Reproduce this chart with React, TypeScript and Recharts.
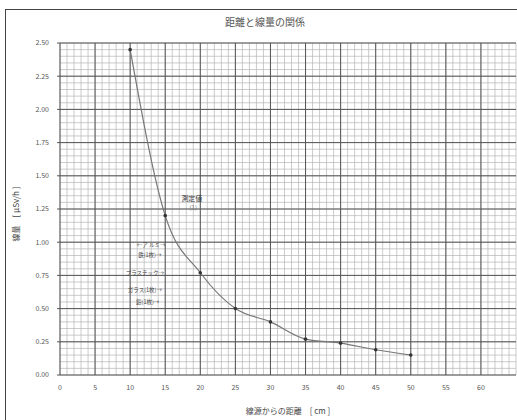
import { LineChart, Line, XAxis, YAxis, ReferenceLine, ReferenceDot } from 'recharts';

const distance = [10, 15, 20, 25, 30, 35, 40, 45, 50];
const dose = [2.45, 1.2, 0.77, 0.5, 0.4, 0.27, 0.24, 0.19, 0.15];

const xTicks = [0, 5, 10, 15, 20, 25, 30, 35, 40, 45, 50, 55, 60];
const yTicks = [0, 0.25, 0.5, 0.75, 1, 1.25, 1.5, 1.75, 2, 2.25, 2.5];

// fine graph-paper lines
const xMinor = Array.from({ length: 66 }, (_, i) => i);
const yMinor = Array.from({ length: 51 }, (_, i) => Math.round(i * 5) / 100);

const notes = [
  { x: 11.2, y: 0.98, text: '←ア ルミ→' },
  { x: 11.0, y: 0.9, text: '鉄(1枚)→' },
  { x: 10.3, y: 0.77, text: 'プラスチック→' },
  { x: 10.3, y: 0.64, text: 'ガラス(1枚)→' },
  { x: 10.7, y: 0.55, text: '鉛(1枚)→' },
];

const data = distance.map((d, i) => ({ d, v: dose[i] }));
const font = '"Noto Sans CJK JP", "Noto Sans", sans-serif';

const Dot = (p: any) => <circle cx={p.cx} cy={p.cy} r={1.8} fill="#333" />;

export default function App() {
  return (
    <div style={{ position: 'absolute', left: 0, top: 0, width: 517, height: 420, background: '#fff', overflow: 'hidden', fontFamily: font }}>
      <div style={{ position: 'absolute', left: 5, top: 9, width: 530, height: 430, border: '1.5px solid #444' }} />
      <LineChart
        width={517}
        height={420}
        data={data}
        margin={{ top: 43, right: 1, bottom: 15, left: 0 }}
        style={{ position: 'absolute', left: 0, top: 0 }}
      >
        <XAxis
          type="number"
          dataKey="d"
          domain={[0, 65]}
          ticks={xTicks}
          height={30}
          axisLine={false}
          tickLine={false}
          interval={0}
          tick={{ fontSize: 7, fill: '#555', fontFamily: font, dy: 2 }}
        />
        <YAxis
          type="number"
          domain={[0, 2.5]}
          ticks={yTicks}
          width={60}
          axisLine={false}
          tickSize={3}
          tickLine={{ stroke: '#555' }}
          tickFormatter={(v: number) => v.toFixed(2)}
          tick={{ fontSize: 7, fill: '#555', fontFamily: font, dx: -6 }}
        />
        {xMinor.map((x) => (
          <ReferenceLine key={'xm' + x} x={x} stroke="#b4b4b4" strokeWidth={0.7} />
        ))}
        {yMinor.map((y) => (
          <ReferenceLine key={'ym' + y} y={y} stroke="#b4b4b4" strokeWidth={0.7} />
        ))}
        {xTicks.map((x) => (
          <ReferenceLine key={'xM' + x} x={x} stroke="#555" strokeWidth={1} />
        ))}
        {yTicks.map((y) => (
          <ReferenceLine key={'yM' + y} y={y} stroke="#555" strokeWidth={1} />
        ))}
        <ReferenceLine
          segment={[{ x: 15.2, y: 1.22 }, { x: 16.2, y: 1.3 }, { x: 17.2, y: 1.32 }]}
          stroke="#666"
        />
        <ReferenceDot
          x={18.8}
          y={1.33}
          r={0}
          label={{ value: '測定値', fontSize: 7, fill: '#333', fontFamily: font }}
        />
        <ReferenceDot
          x={19.0}
          y={1.26}
          r={0}
          label={{ value: '(1)', fontSize: 6, fill: '#777', fontFamily: font }}
        />
        {notes.map((n) => (
          <ReferenceDot
            key={n.text}
            x={n.x + 1.8}
            y={n.y}
            r={0}
            label={{ value: n.text, fontSize: 5.5, fill: '#444', fontFamily: font }}
          />
        ))}
        <Line
          type="monotone"
          dataKey="v"
          stroke="#777"
          strokeWidth={1.2}
          dot={<Dot />}
          isAnimationActive={false}
        />
      </LineChart>
      <div style={{ position: 'absolute', left: 0, width: 530, top: 14, textAlign: 'center', fontSize: 10, color: '#555' }}>
        距離と線量の関係
      </div>
      <div style={{ position: 'absolute', left: 60, width: 456, top: 405, textAlign: 'center', fontSize: 8, color: '#444' }}>
        線源からの距離　[ cm ]
      </div>
      <div
        style={{
          position: 'absolute',
          left: 15,
          top: 214,
          transform: 'translate(-50%, -50%) rotate(-90deg)',
          whiteSpace: 'nowrap',
          fontSize: 8,
          color: '#444',
        }}
      >
        線量　[ μSv/h ]
      </div>
    </div>
  );
}
